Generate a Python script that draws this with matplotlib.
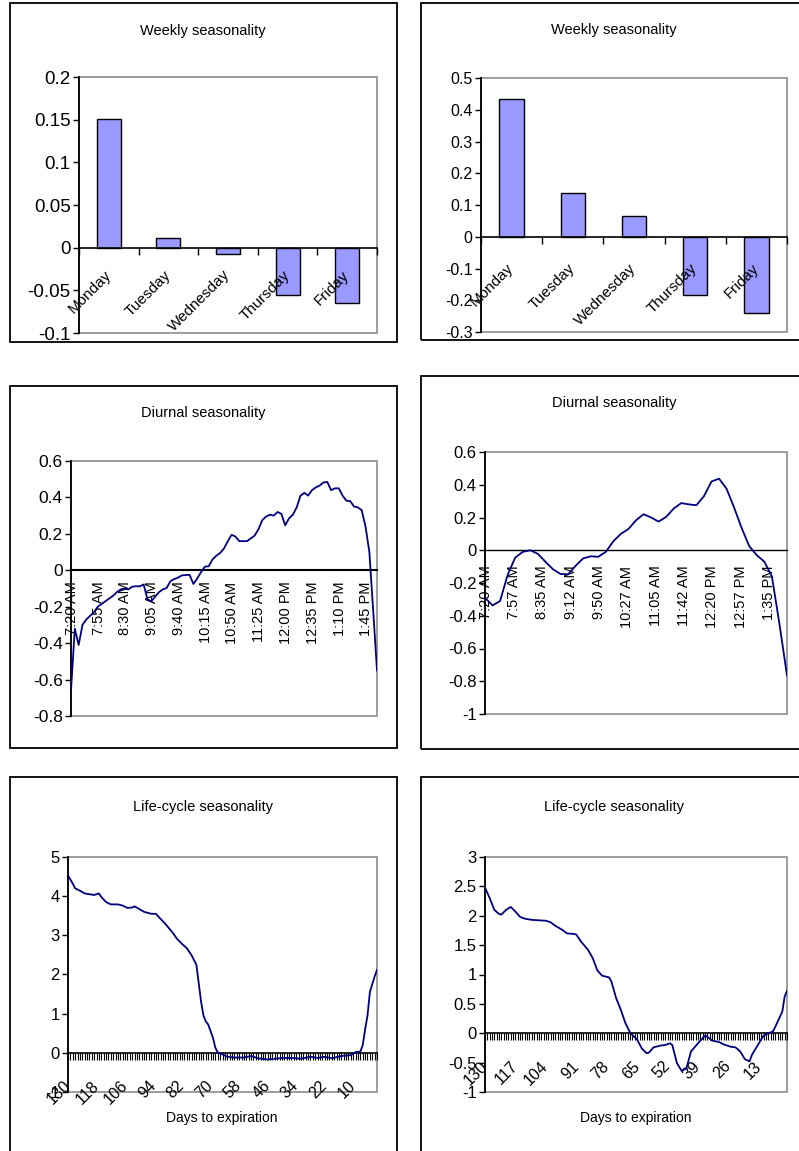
import matplotlib
matplotlib.use('Agg')
import matplotlib.pyplot as plt
import numpy as np
from matplotlib.patches import Rectangle
from matplotlib.ticker import FuncFormatter

plt.rcParams['font.family'] = ['Liberation Sans', 'DejaVu Sans']
plt.rcParams['axes.unicode_minus'] = False

# ---- data ----
days = ['Monday', 'Tuesday', 'Wednesday', 'Thursday', 'Friday']
weekly_a = [0.151, 0.011, -0.007, -0.055, -0.065]
weekly_b = [0.434, 0.137, 0.065, -0.182, -0.240]

# diurnal, left: every 5 minutes from 7:20 AM
diur_a_min = np.arange(0, 401, 5)
diur_a = [-0.66, -0.32, -0.41, -0.30, -0.27, -0.25, -0.23, -0.20, -0.185, -0.17,
          -0.155, -0.14, -0.12, -0.105, -0.10, -0.105, -0.09, -0.088, -0.088, -0.078,
          -0.16, -0.17, -0.145, -0.12, -0.105, -0.097, -0.06, -0.048, -0.04, -0.028,
          -0.026, -0.025, -0.075, -0.045, -0.01, 0.02, 0.022, 0.06, 0.08, 0.095,
          0.12, 0.16, 0.195, 0.185, 0.16, 0.16, 0.16, 0.175, 0.19, 0.225,
          0.275, 0.295, 0.305, 0.30, 0.32, 0.31, 0.247, 0.285, 0.305, 0.345,
          0.41, 0.425, 0.41, 0.44, 0.455, 0.465, 0.482, 0.485, 0.44, 0.45,
          0.45, 0.41, 0.382, 0.38, 0.35, 0.345, 0.33, 0.24, 0.10, -0.22, -0.55]
diur_a_labels = ['7:20 AM', '7:55 AM', '8:30 AM', '9:05 AM', '9:40 AM', '10:15 AM',
                 '10:50 AM', '11:25 AM', '12:00 PM', '12:35 PM', '1:10 PM', '1:45 PM']

# diurnal, right: every 10 minutes from 7:20 AM
diur_b_min = np.arange(0, 401, 10)
diur_b = [-0.29, -0.337, -0.31, -0.15, -0.045, -0.01, 0.0, -0.022, -0.07, -0.116,
          -0.145, -0.147, -0.095, -0.05, -0.037, -0.04, -0.01, 0.055, 0.10, 0.13,
          0.183, 0.22, 0.20, 0.175, 0.204, 0.255, 0.288, 0.28, 0.275, 0.33,
          0.42, 0.437, 0.375, 0.26, 0.135, 0.025, -0.03, -0.07, -0.16, -0.45, -0.765]
diur_b_labels = ['7:20 AM', '7:57 AM', '8:35 AM', '9:12 AM', '9:50 AM', '10:27 AM',
                 '11:05 AM', '11:42 AM', '12:20 PM', '12:57 PM', '1:35 PM']

# life-cycle, days to expiration
life_a_days = [130, 128, 127, 125, 123, 121, 119, 117, 116, 114, 112, 109, 107, 105,
               103, 102, 100, 98, 95, 93, 92, 89, 86, 84, 82, 80, 78, 76, 75, 74,
               73, 72, 71, 69, 68, 67, 65, 63, 60, 56, 53, 50, 46, 43, 39, 36, 32,
               28, 25, 22, 19, 15, 11, 9, 7, 6, 5, 4, 3, 1, 0]
life_a = [4.53, 4.32, 4.20, 4.14, 4.07, 4.05, 4.03, 4.07, 3.98, 3.85, 3.79, 3.79, 3.76, 3.70,
          3.71, 3.74, 3.67, 3.60, 3.55, 3.55, 3.48, 3.29, 3.07, 2.90, 2.78, 2.67, 2.49, 2.25, 1.78, 1.30,
          0.95, 0.80, 0.72, 0.38, 0.13, 0.01, -0.04, -0.10, -0.12, -0.12, -0.08, -0.14, -0.17, -0.15, -0.13, -0.13, -0.15,
          -0.10, -0.13, -0.10, -0.14, -0.08, -0.06, 0.02, 0.03, 0.20, 0.60, 0.95, 1.55, 1.95, 2.12]
life_a_ticks = [130, 118, 106, 94, 82, 70, 58, 46, 34, 22, 10]

life_b_days = [130, 128, 126, 124, 123, 121, 119, 117, 115, 113, 110, 106, 104, 102, 100,
               97, 95, 92, 91, 89, 86, 84, 82, 80, 77, 76, 74, 72, 70, 68, 65, 63, 61,
               60, 58, 55, 53, 51, 50, 48, 46, 44, 42, 39, 36, 35, 33, 30, 28, 25, 23,
               21, 19, 17, 16, 13, 11, 9, 7, 6, 3, 2, 1]
life_b = [2.48, 2.30, 2.10, 2.03, 2.02, 2.10, 2.15, 2.07, 1.98, 1.95, 1.93, 1.92, 1.915, 1.89, 1.83,
          1.76, 1.70, 1.69, 1.68, 1.56, 1.42, 1.28, 1.07, 0.98, 0.95, 0.88, 0.60, 0.40, 0.17, 0.01, -0.11, -0.26, -0.34,
          -0.33, -0.24, -0.21, -0.20, -0.17, -0.20, -0.51, -0.64, -0.60, -0.31, -0.17, -0.04, -0.06, -0.125, -0.15, -0.19, -0.23, -0.24,
          -0.31, -0.44, -0.48, -0.37, -0.17, -0.04, 0.0, 0.03, 0.11, 0.37, 0.625, 0.72]
life_b_ticks = [130, 117, 104, 91, 78, 65, 52, 39, 26, 13]

# ---- layout (pixels of a 799x1151 canvas) ----
W, H = 799, 1151
fig = plt.figure(figsize=(W / 100, H / 100), dpi=100)


def rect(l, t, r, b):
    return [l / W, 1 - b / H, (r - l) / W, (b - t) / H]


def outer_box(l, t, r, b):
    fig.add_artist(Rectangle((l / W, 1 - b / H), (r - l) / W, (b - t) / H,
                             transform=fig.transFigure, fill=False,
                             edgecolor='black', linewidth=1.3))


def ftext(x, y, s, size=10.5):
    fig.text(x / W, 1 - y / H, s, ha='center', va='center', fontsize=size)


fmt = FuncFormatter(lambda v, p: '%g' % (round(v, 6) + 0.0))


def style(ax, yticks, zero_lw=1.2, ysize=11.5):
    ax.set_ylim(yticks[0], yticks[-1])
    ax.set_yticks(yticks)
    ax.yaxis.set_major_formatter(fmt)
    ax.spines['top'].set_visible(False)
    ax.spines['right'].set_visible(False)
    ax.spines['left'].set_linewidth(1.3)
    ax.spines['bottom'].set_position(('data', 0))
    ax.spines['bottom'].set_linewidth(zero_lw)
    ax.add_patch(Rectangle((0, 0), 1, 1, transform=ax.transAxes, fill=False,
                           edgecolor='#8c8c8c', linewidth=1.2, clip_on=False, zorder=0.5))
    ax.tick_params(axis='y', direction='out', length=4, width=1, labelsize=ysize, pad=2)
    ax.set_axisbelow(False)


def rot_labels(ax, angle, minor=False):
    for lbl in ax.get_xticklabels(minor=minor):
        lbl.set_rotation(angle)
        lbl.set_rotation_mode('anchor')
        lbl.set_ha('right')
        lbl.set_va('center')


outer_box(10, 3, 397, 342)
outer_box(421, 3, 810, 340)
outer_box(10, 386, 397, 748)
outer_box(421, 376, 810, 749)
outer_box(10, 777, 397, 1160)
outer_box(421, 777, 810, 1160)

# ---- weekly ----
for pos, vals, yt, pad, tpos, ys in [((79, 77, 377, 333), weekly_a, np.arange(-0.1, 0.2001, 0.05), 18, (203, 31), 13.5),
                                     ((481, 78, 787, 332), weekly_b, np.arange(-0.3, 0.5001, 0.1), 21, (614, 30), 11.5)]:
    ax = fig.add_axes(rect(*pos))
    x = np.arange(len(days))
    ax.bar(x, vals, width=0.4, color='#9999ff', edgecolor='black', linewidth=1, zorder=2)
    ax.set_xlim(-0.5, len(days) - 0.5)
    style(ax, yt, ysize=ys)
    ax.set_xticks(np.arange(-0.5, len(days)), labels=[])
    ax.set_xticks(x, labels=days, minor=True)
    ax.tick_params(axis='x', which='major', direction='out', length=5, width=1)
    ax.tick_params(axis='x', which='minor', length=0, labelsize=11, pad=pad)
    rot_labels(ax, 45, minor=True)
    ftext(*tpos, 'Weekly seasonality')

# ---- diurnal ----
for pos, xm, vals, labels, step, yt, pad, tpos, zlw, ys in [
        ((71, 461, 377, 716), diur_a_min, diur_a, diur_a_labels, 35, np.arange(-0.8, 0.6001, 0.2), 8, (203, 413), 1.5, 12.5),
        ((485, 452, 787, 714), diur_b_min, diur_b, diur_b_labels, 37.5, np.arange(-1.0, 0.6001, 0.2), 11, (614, 403), 1.0, 12)]:
    ax = fig.add_axes(rect(*pos))
    ax.plot(xm, vals, color='#000080', linewidth=1.3, zorder=3)
    ax.set_xlim(0, 400)
    style(ax, yt, zero_lw=zlw, ysize=ys)
    ax.set_xticks(np.arange(len(labels)) * step + 1, labels=labels)
    ax.tick_params(axis='x', length=0, labelsize=10.5, pad=pad)
    rot_labels(ax, 90)
    ftext(*tpos, 'Diurnal seasonality')

# ---- life-cycle ----
for pos, d, vals, ticks, last, yt, tpos, lpos in [
        ((68, 857, 377, 1092), life_a_days, life_a, life_a_ticks, 0, np.arange(-1, 5.001, 1), (203, 807), (222, 1118)),
        ((485, 857, 787, 1092), life_b_days, life_b, life_b_ticks, 1, np.arange(-1, 3.001, 0.5), (614, 807), (636, 1118))]:
    ax = fig.add_axes(rect(*pos))
    ax.plot(d, vals, color='#000080', linewidth=1.3, zorder=3)
    ax.set_xlim(130, last)
    style(ax, yt, ysize=12)
    ax.set_xticks(ticks, labels=[str(t) for t in ticks])
    ax.set_xticks(np.arange(last, 131), minor=True)
    ax.tick_params(axis='x', which='both', direction='out', length=5, width=0.8)
    ax.tick_params(axis='x', which='major', labelsize=11.5, pad=17)
    rot_labels(ax, 45)
    ftext(*tpos, 'Life-cycle seasonality')
    ftext(*lpos, 'Days to expiration', size=10)

fig.savefig('out.png', dpi=100)
